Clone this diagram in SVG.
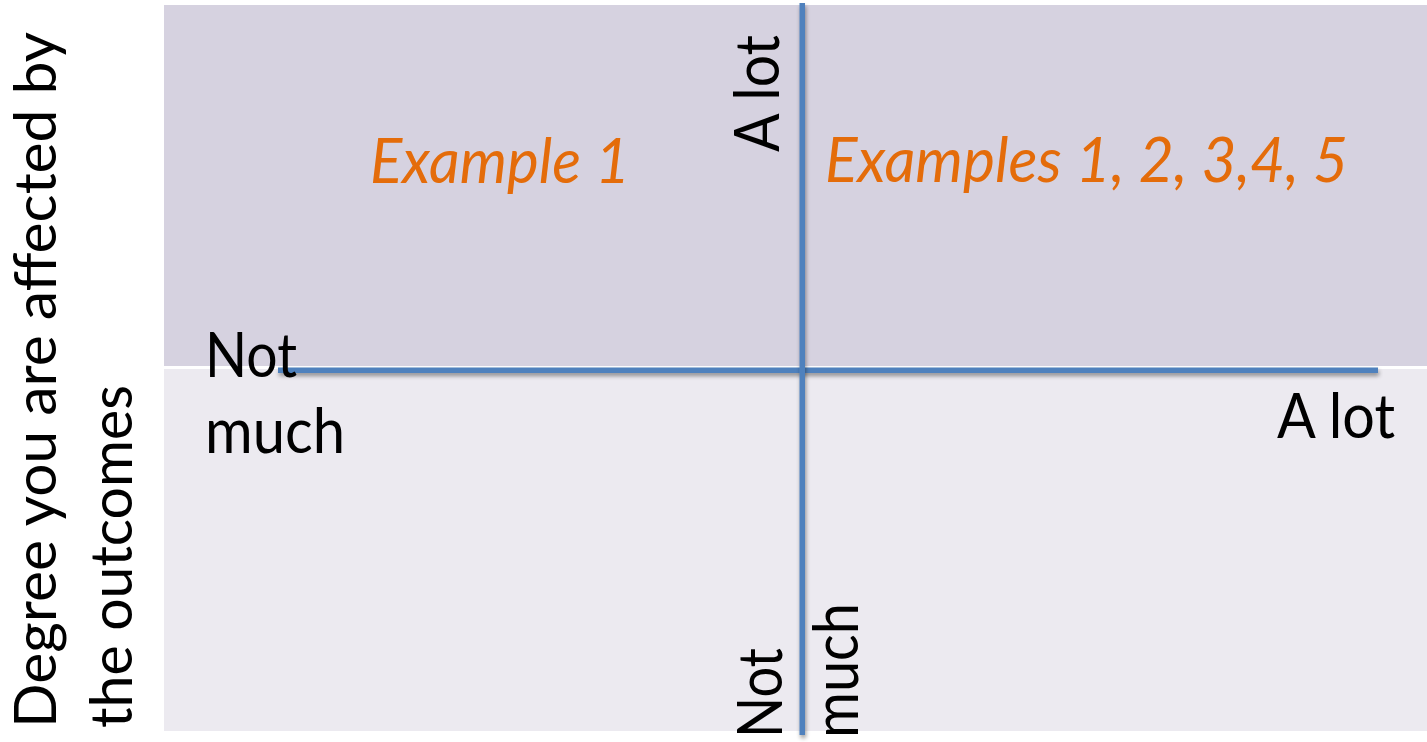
<svg xmlns="http://www.w3.org/2000/svg" width="1427" height="742" viewBox="0 0 1427 742">
  <style>
    .lbl { font-family: Lato, "Open Sans", "Liberation Sans", sans-serif; font-size: 61px; fill: #000; }
    .title { font-size: 58px; }
    .ex { font-family: Lato, "Open Sans", "Liberation Sans", sans-serif; font-size: 62px; font-style: italic; fill: #e46c0a; }
    .axis { fill: #4f81bd; filter: url(#shade); }
  </style>
  <defs>
    <filter id="shade" filterUnits="userSpaceOnUse" x="0" y="0" width="1427" height="742">
      <feGaussianBlur in="SourceAlpha" stdDeviation="2"/>
      <feOffset dx="1" dy="3" result="b"/>
      <feComponentTransfer><feFuncA type="linear" slope="0.4"/></feComponentTransfer>
      <feMerge><feMergeNode/><feMergeNode in="SourceGraphic"/></feMerge>
    </filter>
  </defs>

  <rect width="1427" height="742" fill="#ffffff"/>

  <!-- upper and lower bands -->
  <g id="band-high">
    <rect x="164" y="5" width="1263" height="361" fill="#d6d2e0"/>
  </g>
  <g id="band-low">
    <rect x="164" y="369" width="1263" height="362" fill="#eceaf0"/>
  </g>

  <!-- axes -->
  <g id="axes">
    <rect class="axis" x="278" y="367.5" width="1100" height="5.5"/>
    <rect class="axis" x="799.5" y="3" width="5.5" height="732"/>
  </g>

  <!-- vertical axis title -->
  <g id="y-title">
    <text class="lbl title" transform="translate(56,728) rotate(-90)" textLength="696" lengthAdjust="spacingAndGlyphs">Degree you are affected by</text>
    <text class="lbl title" transform="translate(132,728) rotate(-90)" textLength="343" lengthAdjust="spacingAndGlyphs">the outcomes</text>
  </g>

  <!-- horizontal axis end labels -->
  <g id="x-low">
    <text class="lbl" x="205" y="377" textLength="92" lengthAdjust="spacingAndGlyphs">Not</text>
    <text class="lbl" x="205" y="453" textLength="140" lengthAdjust="spacingAndGlyphs">much</text>
  </g>
  <g id="x-high">
    <text class="lbl" x="1277" y="438" textLength="118" lengthAdjust="spacingAndGlyphs">A lot</text>
  </g>

  <!-- vertical axis end labels -->
  <g id="y-high">
    <text class="lbl" transform="translate(779,152) rotate(-90)" textLength="117" lengthAdjust="spacingAndGlyphs">A lot</text>
  </g>
  <g id="y-low">
    <text class="lbl" transform="translate(782,738) rotate(-90)" textLength="90" lengthAdjust="spacingAndGlyphs">Not</text>
    <text class="lbl" transform="translate(858,738) rotate(-90)" textLength="135" lengthAdjust="spacingAndGlyphs">much</text>
  </g>

  <!-- quadrant contents -->
  <g id="quad-upper-left">
    <text class="ex" x="370" y="183" textLength="260" lengthAdjust="spacingAndGlyphs">Example 1</text>
  </g>
  <g id="quad-upper-right">
    <text class="ex" x="825" y="182" textLength="523" lengthAdjust="spacingAndGlyphs">Examples 1, 2, 3,4, 5</text>
  </g>
</svg>
